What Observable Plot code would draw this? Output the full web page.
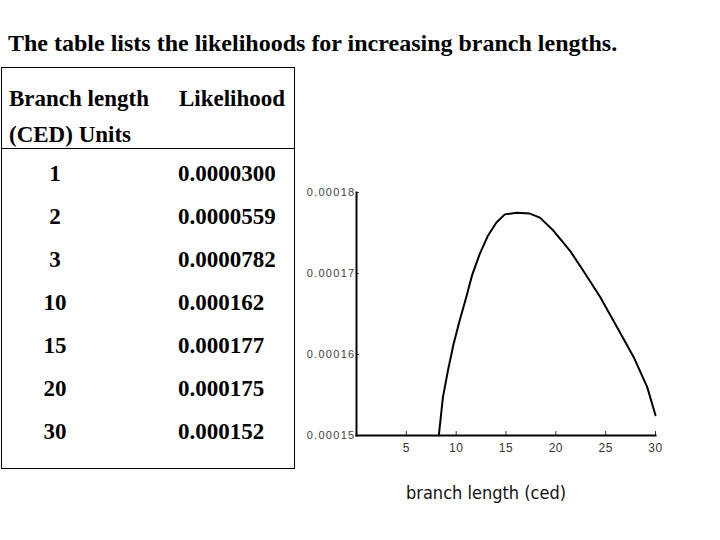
<!DOCTYPE html>
<html>
<head>
<meta charset="utf-8">
<script src="https://cdn.jsdelivr.net/npm/d3@7"></script>
<script src="https://cdn.jsdelivr.net/npm/@observablehq/plot@0.6"></script>
<style>
  html, body { margin: 0; padding: 0; background: #fff; }
  body { width: 720px; height: 540px; position: relative; overflow: hidden; font-family: "Liberation Serif", "Times New Roman", serif; }
  #title { position: absolute; left: 8px; top: 29px; font-size: 24px; font-weight: bold; color: #000; white-space: nowrap; line-height: 28px; }
  #table { position: absolute; left: 1px; top: 67px; width: 292px; height: 400px; border: 1px solid #000; font-size: 23px; font-weight: bold; color: #000; }
  #head { position: absolute; left: 0; top: 0; width: 292px; height: 80px; border-bottom: 1px solid #000; }
  .h { position: absolute; white-space: nowrap; line-height: 26px; }
  .row { position: absolute; left: 0; width: 292px; height: 43px; line-height: 43px; }
  .c1 { position: absolute; left: 33px; width: 40px; text-align: center; }
  .c2 { position: absolute; left: 176px; }
  #chart { position: absolute; left: 296px; top: 170px; }
  #chart svg g[aria-label="y-axis tick label"] text { letter-spacing: 1.3px; }
  #chart svg g[aria-label="x-axis tick label"] text { letter-spacing: 0.5px; }
</style>
</head>
<body>
<div id="title"></div>
<div id="table"><div id="head"></div></div>
<div id="chart"></div>
<script>
const titleText = "The table lists the likelihoods for increasing branch lengths.";
const headerCol1 = ["Branch length", "(CED) Units"];
const headerCol2 = "Likelihood";
const tableLengths = ["1", "2", "3", "10", "15", "20", "30"];
const tableLikelihoods = ["0.0000300", "0.0000559", "0.0000782", "0.000162", "0.000177", "0.000175", "0.000152"];

const curveX = [8.26, 8.67, 9.17, 9.74, 10.35, 11.02, 11.6, 12.36, 13.2, 14.04, 14.88, 16.06, 17.4, 18.4, 19.75, 21.43, 22.77, 24.45, 26.13, 27.8, 29.16, 30];
const curveY = [0.0001500, 0.0001547, 0.0001580, 0.0001613, 0.0001642, 0.0001671, 0.0001698, 0.0001724, 0.0001747, 0.0001763, 0.0001773, 0.0001775, 0.0001774, 0.0001769, 0.0001753, 0.0001728, 0.0001703, 0.0001671, 0.0001634, 0.0001597, 0.0001560, 0.0001525];
const xTicks = [5, 10, 15, 20, 25, 30];
const yTicks = [0.00015, 0.00016, 0.00017, 0.00018];
const xDomain = [0, 30];
const yDomain = [0.00015, 0.00018];
const xLabel = "branch length (ced)";

document.getElementById("title").textContent = titleText;

const head = document.getElementById("head");
const h1 = document.createElement("div"); h1.className = "h"; h1.style.left = "7px"; h1.style.top = "18px"; h1.textContent = headerCol1[0]; head.appendChild(h1);
const h2 = document.createElement("div"); h2.className = "h"; h2.style.left = "7px"; h2.style.top = "54px"; h2.textContent = headerCol1[1]; head.appendChild(h2);
const h3 = document.createElement("div"); h3.className = "h"; h3.style.left = "177px"; h3.style.top = "18px"; h3.textContent = headerCol2; head.appendChild(h3);

const table = document.getElementById("table");
tableLengths.forEach((len, i) => {
  const r = document.createElement("div");
  r.className = "row";
  r.style.top = (84 + i * 43) + "px";
  const a = document.createElement("div"); a.className = "c1"; a.textContent = len;
  const b = document.createElement("div"); b.className = "c2"; b.textContent = tableLikelihoods[i];
  r.appendChild(a); r.appendChild(b);
  table.appendChild(r);
});

const curve = curveX.map((x, i) => ({x, y: curveY[i]}));

const plot = Plot.plot({
  width: 384,
  height: 340,
  marginLeft: 60,
  marginRight: 25,
  marginTop: 22,
  marginBottom: 75,
  x: {domain: xDomain},
  y: {domain: yDomain},
  style: {fontFamily: "Liberation Sans, Arial, sans-serif", background: "transparent"},
  marks: [
    Plot.axisX({ticks: xTicks, tickSize: -4, tickPadding: 12, fontSize: 12, color: "#333", label: null}),
    Plot.axisY({ticks: yTicks, tickSize: -3, tickPadding: 4, tickFormat: d3.format(".5f"), fontSize: 11, color: "#444", label: null}),
    Plot.frame({anchor: "left", stroke: "#000", strokeWidth: 2}),
    Plot.frame({anchor: "bottom", stroke: "#000", strokeWidth: 2}),
    Plot.line(curve, {x: "x", y: "y", stroke: "#000", strokeWidth: 2, strokeLinejoin: "round"}),
    Plot.text([xLabel], {frameAnchor: "bottom", dy: 63, dx: -20, text: d => d, fontSize: 18, fill: "#111", fontFamily: "DejaVu Sans Condensed, Liberation Sans Narrow, Liberation Sans, Arial, sans-serif"})
  ]
});
document.getElementById("chart").appendChild(plot);
</script>
</body>
</html>
